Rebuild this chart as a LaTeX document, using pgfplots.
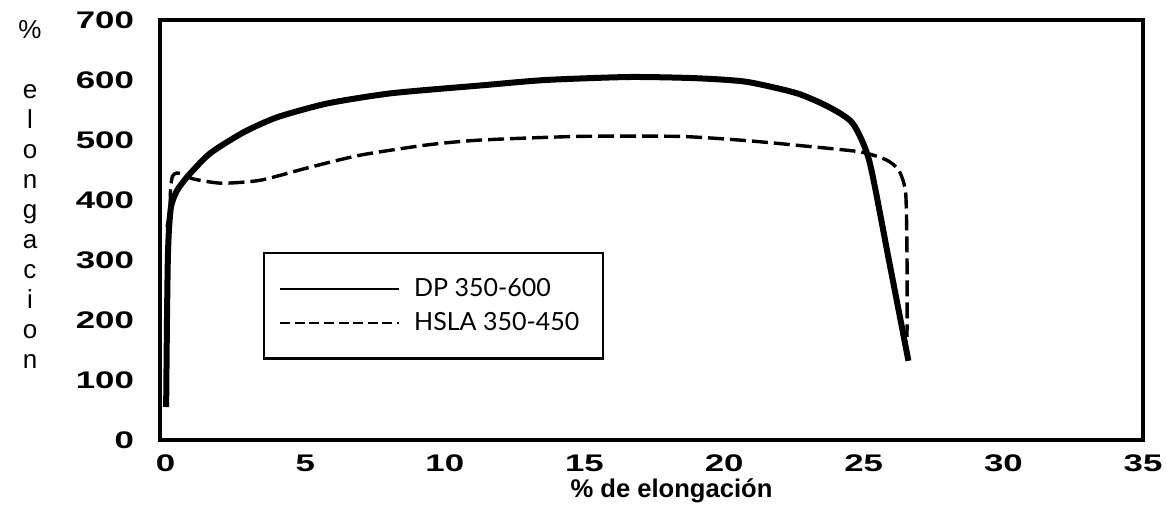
\documentclass[border=0pt]{standalone}
\usepackage{fontspec}
\setmainfont{Liberation Sans}
\newfontfamily\tickfont[FakeStretch=1.45]{Liberation Sans}
\newfontfamily\legfont{Lato}
\usepackage{pgfplots}
\pgfplotsset{compat=1.18}

\begin{document}
\begin{tikzpicture}
\useasboundingbox (-80pt,-36.5pt) rectangle (503pt,220pt);
\begin{axis}[
  scale only axis, width=491.5pt, height=210pt,
  xmin=-0.2, xmax=35, ymin=0, ymax=700,
  xtick={0,5,...,35}, ytick={0,100,...,700},
  major tick length=0pt,
  axis line style={line width=2pt},
  tick label style={font=\tickfont\bfseries\fontsize{12}{14}\selectfont},
  /pgf/number format/assume math mode=true,
  xticklabel style={yshift=-4pt},
  yticklabel style={xshift=-9.5pt},
  xlabel={\% de elongación},
  xlabel style={font=\bfseries\fontsize{12.8}{15}\selectfont, at={(axis description cs:0.5,0)}, anchor=north, yshift=-16pt, xshift=10pt},
  legend style={at={(axis description cs:0.1048,0.4476)}, anchor=north west,
    draw=black, line width=1.2pt, inner xsep=7.5pt, inner ysep=10.5pt, row sep=2.5pt,
    font=\legfont\fontsize{12.5}{14}\selectfont},
  legend cell align=left,
]
\addplot[black, line width=3pt, smooth, tension=0.4,
  legend image code/.code={\draw[black, line width=1pt] (0pt,0pt) -- (59.5pt,0pt);}]
  coordinates {
  (0.02,55) (0.05,200) (0.08,300) (0.12,350) (0.2,390) (0.4,415) (0.8,440)
  (1.6,478) (2.8,513) (4.0,538) (5.8,561) (8.1,578) (11.3,591) (13.6,600)
  (16.6,605) (19.0,603) (20.8,597) (22.6,578) (23.75,555) (24.6,528)
  (25.2,465) (25.9,300) (26.6,132)
  };
\addlegendentry{\makebox[90pt][l]{\hspace{5pt}DP 350-600}}
\addplot[black, line width=1.7pt, dash pattern=on 8pt off 3pt, smooth, tension=0.4,
  legend image code/.code={\draw[black, line width=1pt, dash pattern=on 5pt off 2.3pt] (0pt,0pt) -- (59.5pt,0pt);}]
  coordinates {
  (0.05,355) (0.15,380) (0.18,420) (0.25,440) (0.4,445) (0.7,442) (1.0,435)
  (2.0,428) (3.4,433) (5.2,455) (7.0,475) (9.4,492) (11.3,500) (14.8,506)
  (18.4,506) (20.8,499) (23.1,489) (24.9,480) (25.8,467) (26.25,450)
  (26.5,412) (26.55,300) (26.55,172)
  };
\addlegendentry{\makebox[90pt][l]{\hspace{5pt}HSLA 350-450}}
\end{axis}
\node[anchor=north, align=center, inner sep=0pt, font=\fontsize{13}{15}\selectfont]
  at (-65pt,210pt) {\%\\[15pt] e\\ l\\ o\\ n\\ g\\ a\\ c\\ i\\ o\\ n};
\end{tikzpicture}
\end{document}
